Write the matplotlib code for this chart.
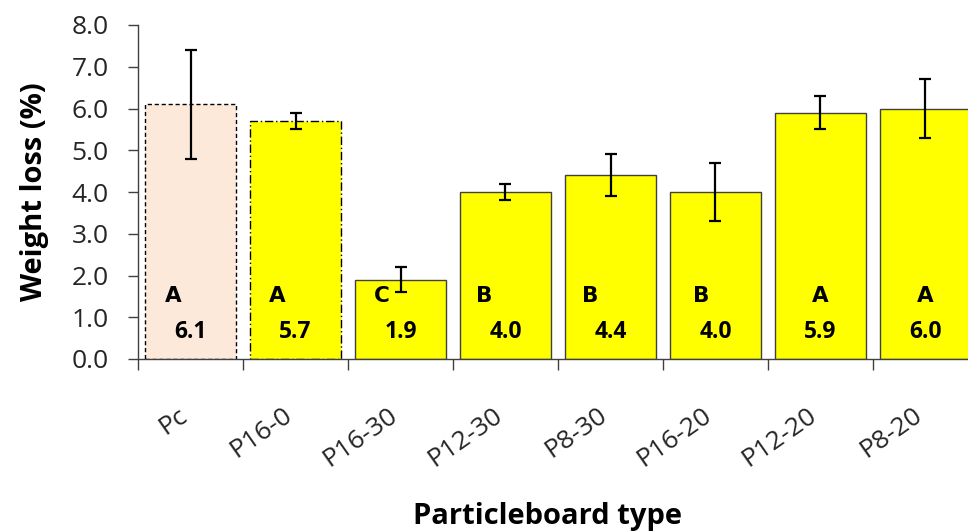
import numpy as np
import matplotlib.pyplot as plt
from matplotlib.transforms import ScaledTranslation

plt.rcParams['font.family'] = ['Open Sans', 'DejaVu Sans']

boards = ['Pc', 'P16-0', 'P16-30', 'P12-30', 'P8-30', 'P16-20', 'P12-20', 'P8-20']
weight_loss = [6.1, 5.7, 1.9, 4.0, 4.4, 4.0, 5.9, 6.0]
std_dev = [1.3, 0.2, 0.3, 0.2, 0.5, 0.7, 0.4, 0.7]
groups = ['A', 'A', 'C', 'B', 'B', 'B', 'A', 'A']

fig = plt.figure(figsize=(9.68, 5.31), dpi=100)
ax = fig.add_axes([138 / 968, 1 - 359 / 531, 840 / 968, 334 / 531])

x = np.arange(len(boards))
colors = ['#FDE9D9'] + ['#FFFF00'] * (len(boards) - 1)
bars = ax.bar(x, weight_loss, width=0.87, color=colors, edgecolor='#404040',
              linewidth=1.0, zorder=2)
bars[0].set_linestyle((0, (3, 2)))
bars[0].set_edgecolor('black')
bars[1].set_linestyle((0, (6, 2, 1, 2)))
bars[1].set_edgecolor('black')

ax.errorbar(x, weight_loss, yerr=std_dev, fmt='none', ecolor='black',
            elinewidth=1.6, capsize=4.5, capthick=1.6, zorder=3)

# significance letters and mean values inside the bars
letter_shift = [-0.16, -0.17, -0.18, -0.2, -0.19, -0.14, 0, 0]
for i in range(len(boards)):
    ax.text(x[i] + letter_shift[i], 1.51, groups[i], ha='center', va='center',
            fontsize=15.5, fontweight='bold', family='DejaVu Sans',
            color='black', zorder=4)
    ax.text(x[i], 0.64, f'{weight_loss[i]:.1f}', ha='center', va='center',
            fontsize=16.5, fontweight='bold', color='black', zorder=4)

ax.set_xlim(-0.5, len(boards) - 0.5)
ax.set_ylim(0, 8)
ax.set_yticks(np.arange(0, 8.1, 1.0))
ax.set_yticklabels([f'{v:.1f}' for v in np.arange(0, 8.1, 1.0)])
ax.tick_params(axis='y', direction='out', length=7, width=1, colors='#404040',
               labelsize=19, labelcolor='#262626', pad=14)

# ticks sit between the categories, names are drawn as rotated text
ax.set_xticks(x - 0.5)
ax.set_xticklabels([])
ax.tick_params(axis='x', direction='out', length=8, width=1, colors='#404040')
offset = ScaledTranslation(-6 / 100, -54 / 100, fig.dpi_scale_trans)
for i, name in enumerate(boards):
    ax.text(x[i], 0, name, transform=ax.get_xaxis_transform() + offset,
            rotation=35, rotation_mode='anchor', ha='right', va='center',
            fontsize=19, color='#262626', clip_on=False)

for s in ['top', 'right']:
    ax.spines[s].set_visible(False)
for s in ['left', 'bottom']:
    ax.spines[s].set_color('#404040')
    ax.spines[s].set_linewidth(1)

ax.set_ylabel('Weight loss (%)', fontsize=21, fontweight='bold', labelpad=16)
fig.text(0.566, 0.027, 'Particleboard type', ha='center', va='center',
         fontsize=21, fontweight='bold')

fig.savefig('out.png', dpi=100)
